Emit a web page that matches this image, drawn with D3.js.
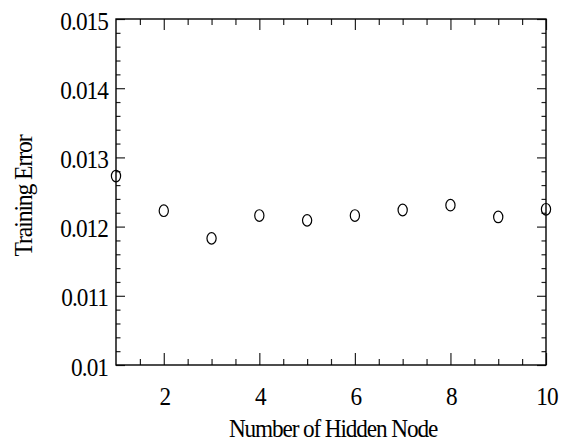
<!DOCTYPE html>
<html>
<head>
<meta charset="utf-8">
<script src="https://cdn.jsdelivr.net/npm/d3@7"></script>
<style>
  body { margin: 0; background: #fff; }
  text { font-family: 'Liberation Serif', 'Times New Roman', serif; fill: #000; }
</style>
</head>
<body>
<div id="container"></div>
<script>
// chart data
const hiddenNodes = [1, 2, 3, 4, 5, 6, 7, 8, 9, 10];
const trainingError = [0.01273, 0.01223, 0.01183, 0.01216, 0.01209, 0.01216, 0.01224, 0.01231, 0.01214, 0.01225];
const xTickValues = [2, 4, 6, 8, 10];
const yTickValues = [0.010, 0.011, 0.012, 0.013, 0.014, 0.015];
const yTickLabels = ['0.01', '0.011', '0.012', '0.013', '0.014', '0.015'];

const svgWidth = 571,
  svgHeight = 443;
const margin = { top: 19, right: 25, bottom: 78, left: 116 };
const plotW = svgWidth - margin.left - margin.right;
const plotH = svgHeight - margin.top - margin.bottom;
const squeeze = 'scale(0.93,1)';

const svg = d3
  .select('#container')
  .append('svg')
  .attr('width', svgWidth)
  .attr('height', svgHeight);

const g = svg.append('g').attr('transform', `translate(${margin.left},${margin.top})`);

const xScale = d3.scaleLinear().domain([1, 10]).range([0, plotW]);
const yScale = d3.scaleLinear().domain([0.01, 0.015]).range([plotH, 0]);

// minor tick positions (between the labelled ones)
const xMinor = d3.range(1.5, 10, 0.5).filter((v) => !xTickValues.includes(v));
const yMinor = d3.range(1, 25).map((i) => 0.01 + i * 0.0002).filter((v, i) => (i + 1) % 5 !== 0);

const styleAxis = (sel) => {
  sel.select('.domain').remove();
  sel.selectAll('line').attr('stroke', '#222').attr('stroke-width', 1.2);
};

// bottom
g.append('g')
  .attr('transform', `translate(0,${plotH})`)
  .call(d3.axisBottom(xScale).tickValues(xTickValues).tickSize(-12).tickFormat(d3.format('d')))
  .call(styleAxis)
  .call((a) =>
    a.selectAll('text')
      .attr('x', 0.5)
      .attr('y', 40)
      .attr('dy', 0)
      .attr('font-size', 25)
      .attr('letter-spacing', -1)
      .attr('transform', squeeze)
  );
g.append('g')
  .attr('transform', `translate(0,${plotH})`)
  .call(d3.axisBottom(xScale).tickValues(xMinor).tickSize(-6).tickFormat(''))
  .call(styleAxis);

// top
g.append('g')
  .call(d3.axisTop(xScale).tickValues(xTickValues).tickSize(-11).tickFormat(''))
  .call(styleAxis);
g.append('g')
  .call(d3.axisTop(xScale).tickValues(xMinor).tickSize(-6).tickFormat(''))
  .call(styleAxis);

// left
g.append('g')
  .call(
    d3.axisLeft(yScale)
      .tickValues(yTickValues)
      .tickSize(-9)
      .tickPadding(8.6)
      .tickFormat((d, i) => yTickLabels[i])
  )
  .call(styleAxis)
  .call((a) =>
    a.selectAll('text')
      .attr('dy', 10)
      .attr('font-size', 25)
      .attr('letter-spacing', -1)
      .attr('transform', squeeze)
  );
g.append('g')
  .call(d3.axisLeft(yScale).tickValues(yMinor).tickSize(-4.5).tickFormat(''))
  .call(styleAxis);

// right
g.append('g')
  .attr('transform', `translate(${plotW},0)`)
  .call(d3.axisRight(yScale).tickValues(yTickValues).tickSize(-9).tickFormat(''))
  .call(styleAxis);
g.append('g')
  .attr('transform', `translate(${plotW},0)`)
  .call(d3.axisRight(yScale).tickValues(yMinor).tickSize(-4.5).tickFormat(''))
  .call(styleAxis);

// frame
g.append('rect')
  .attr('width', plotW)
  .attr('height', plotH)
  .attr('fill', 'none')
  .attr('stroke', '#000')
  .attr('stroke-width', 1.4);

// points
g.selectAll('ellipse')
  .data(hiddenNodes)
  .enter()
  .append('ellipse')
  .attr('cx', (d) => xScale(d))
  .attr('cy', (d, i) => yScale(trainingError[i]))
  .attr('rx', 4.6)
  .attr('ry', 5.8)
  .attr('fill', 'none')
  .attr('stroke', '#000')
  .attr('stroke-width', 1.2);

// titles
svg.append('text')
  .attr('transform', `translate(${margin.left + plotW / 2 + 2},437) scale(0.93,1)`)
  .attr('text-anchor', 'middle')
  .attr('font-size', 25)
  .attr('letter-spacing', -1.2)
  .text('Number of Hidden Node');

svg.append('text')
  .attr('transform', `translate(32,196) rotate(-90) scale(0.95,1)`)
  .attr('text-anchor', 'middle')
  .attr('font-size', 25)
  .attr('letter-spacing', -1.2)
  .text('Training Error');
</script>
</body>
</html>
